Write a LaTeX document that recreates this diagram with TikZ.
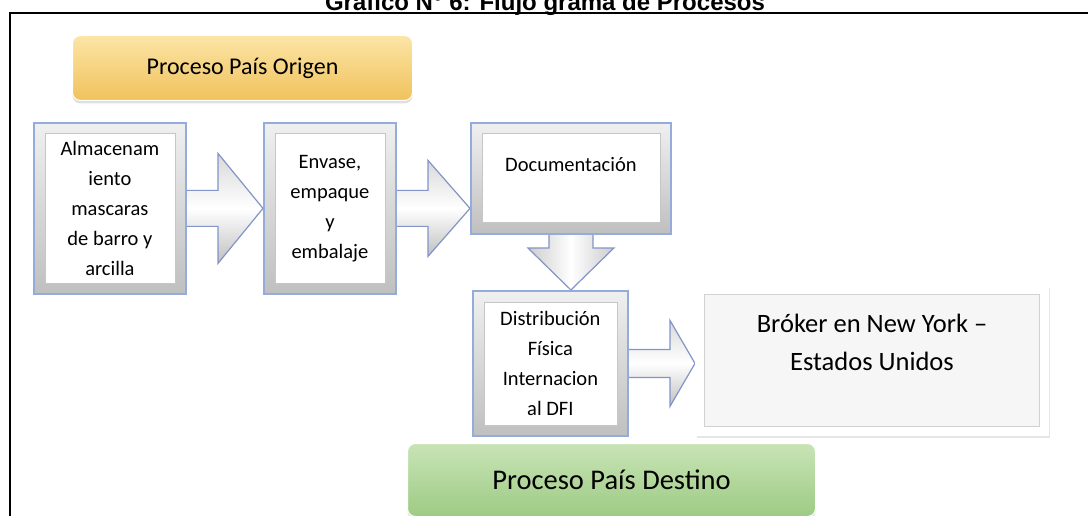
\documentclass[tikz,border=0pt]{standalone}
\usepackage{fontspec}
\setmainfont{Carlito}
\newfontfamily\titlefont{Liberation Sans}
\usetikzlibrary{calc,shadows,backgrounds}
\definecolor{stageblue}{HTML}{95ABDC}
\definecolor{arrowblue}{HTML}{8294C8}
\definecolor{origenlight}{HTML}{FCE5A6}
\definecolor{origendark}{HTML}{F0C25C}
\definecolor{destinolight}{HTML}{C8E4B6}
\definecolor{destinodark}{HTML}{9DCB84}
\tikzset{ %inner sep = 0,
  {stage/.style} ={draw=stageblue, line width=1.8pt,
                   top color=gray!12, bottom color=gray!50,
                   inner sep=0, anchor=north west, align=center,
                   font=\fontsize{20.5}{30}\selectfont,
                   path picture={\draw[fill=white,draw=gray!45,line width=.8pt]
                     ([shift={(11pt,-11pt)}]path picture bounding box.north west) rectangle
                     ([shift={(-11pt,11pt)}]path picture bounding box.south east);}},
  {result box/.style} ={draw=white, line width=1pt, fill=white,
                   inner sep=0, anchor=north west, align=center,
                   drop shadow={opacity=.2,shadow xshift=1.5pt,shadow yshift=-2pt},
                   font=\fontsize{26.5}{38}\selectfont,
                   path picture={\draw[fill=gray!7,draw=gray!35,line width=1pt]
                     ([shift={(9pt,-9pt)}]path picture bounding box.north west) rectangle
                     ([shift={(-9pt,9pt)}]path picture bounding box.south east);}},
  {banner/.style} ={rounded corners=8pt, inner sep=0, anchor=north west,
                   draw=white, line width=1pt,
                   drop shadow={opacity=.25,shadow xshift=0pt,shadow yshift=-3pt}},
  {block arrow/.style} ={draw=arrowblue, line width=1.2pt,
                   top color=gray!30, bottom color=gray!50, middle color=white},
  {down arrow/.style} ={block arrow, left color=gray!40, right color=gray!40,
                   middle color=white},
}
% flecha horizontal: desde, hasta, medio cuerpo, media punta, largo punta
\newcommand{\flechah}[5]{%
  \draw[block arrow] ($(#1.east)+(-6,-#3)$)
    -- ($(#2.west |- #1.east)+(-#5,-#3)$)
    -- ($(#2.west |- #1.east)+(-#5,-#4)$)
    -- (#2.west |- #1.east)
    -- ($(#2.west |- #1.east)+(-#5,#4)$)
    -- ($(#2.west |- #1.east)+(-#5,#3)$)
    -- ($(#1.east)+(-6,#3)$) -- cycle;}
% flecha hacia abajo
\newcommand{\flechav}[5]{%
  \draw[down arrow] ($(#1.south)+(-#3,-6)$)
    -- ($(#1.south |- #2.north)+(-#3,-#5)$)
    -- ($(#1.south |- #2.north)+(-#4,-#5)$)
    -- (#1.south |- #2.north)
    -- ($(#1.south |- #2.north)+(#4,-#5)$)
    -- ($(#1.south |- #2.north)+(#3,-#5)$)
    -- ($(#1.south)+(#3,-6)$) -- cycle;}

\begin{document}
\begin{tikzpicture}[x=1pt,y=-1pt]
\useasboundingbox (0,0) rectangle (1088,516);
\node[font=\titlefont\bfseries\fontsize{24}{24}\selectfont, anchor=base] (titulo)
  at (545,10.5) {Gráfico N° 6: Flujo grama de Procesos};
\draw[line width=2pt] (10,516) -- (10,13) -- (1088,13);

\node[banner, top color=origenlight, bottom color=origendark,
      minimum width=340pt, minimum height=65pt,
      font=\fontsize{24}{24}\selectfont] (origen) at (72,35) {Proceso País Origen};
\node[stage, minimum width=152pt, minimum height=171pt] (almacen) at (33,122)
  {Almacenam\\iento\\mascaras\\de barro y\\arcilla};
\node[stage, minimum width=132pt, minimum height=171pt] (envase) at (263,122)
  {Envase,\\empaque\\y\\embalaje};
\node[stage, minimum width=200pt, minimum height=111pt, text depth=28pt] (docu)
  at (470,122) {Documentación};
\node[stage, minimum width=155pt, minimum height=145pt] (dfi) at (472,290)
  {Distribución\\Física\\Internacion\\al DFI};
\node[result box, minimum width=353pt, minimum height=150pt, text depth=36pt] (broker)
  at (695,285) {Bróker en New York –\\Estados Unidos};
\node[banner, top color=destinolight, bottom color=destinodark,
      minimum width=408pt, minimum height=73pt,
      font=\fontsize{28.5}{28.5}\selectfont] (destino) at (407,443) {Proceso País Destino};

\begin{scope}[on background layer]
\flechah{almacen}{envase}{18}{55}{45}
\flechah{envase}{docu}{18}{48}{42}
\flechav{docu}{dfi}{22}{43}{42}
\flechah{dfi}{broker}{14}{43}{25}
\end{scope}
\end{tikzpicture}
\end{document}
